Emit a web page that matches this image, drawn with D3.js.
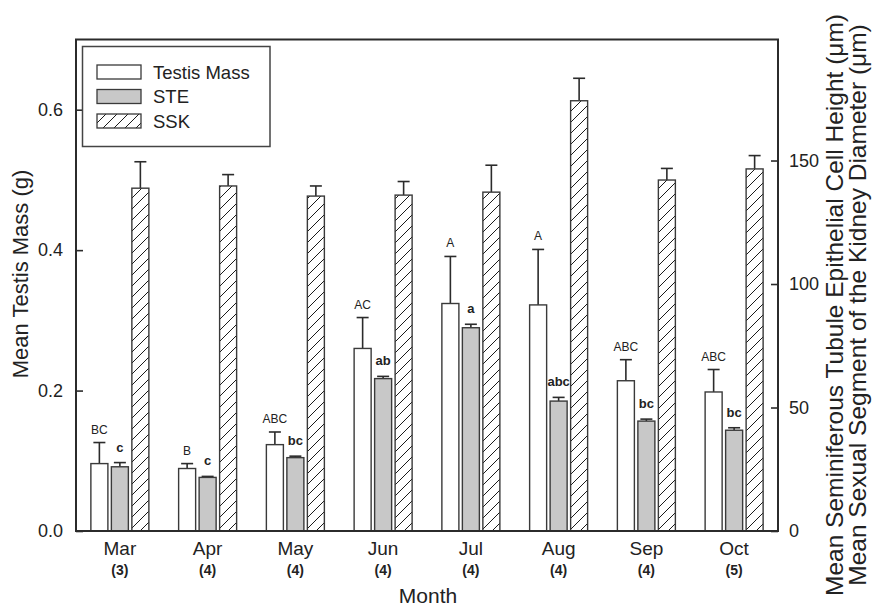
<!DOCTYPE html>
<html>
<head>
<meta charset="utf-8">
<script src="https://cdn.jsdelivr.net/npm/d3@7/dist/d3.min.js"></script>
<style>
  html, body { margin: 0; padding: 0; background: #fff; }
  svg { display: block; font-family: "Liberation Sans", Arial, sans-serif; }
</style>
</head>
<body>
<svg id="chart" width="878" height="610"></svg>
<script>
// ---- data ----
const months = ["Mar", "Apr", "May", "Jun", "Jul", "Aug", "Sep", "Oct"];
const sampleSizes = ["(3)", "(4)", "(4)", "(4)", "(4)", "(4)", "(4)", "(5)"];
const seriesNames = ["Testis Mass", "STE", "SSK"];
const testisMass = [0.096, 0.089, 0.123, 0.260, 0.324, 0.322, 0.214, 0.198];
const testisErr  = [0.030, 0.007, 0.018, 0.044, 0.067, 0.079, 0.030, 0.032];
const steValues  = [26.0, 21.7, 29.7, 61.7, 82.3, 52.6, 44.5, 40.8];
const steErr     = [1.7, 0.4, 0.6, 0.9, 1.4, 1.5, 0.8, 1.0];
const sskValues  = [138.8, 139.7, 135.6, 136.0, 137.2, 174.2, 142.1, 146.6];
const sskErr     = [10.7, 4.6, 4.1, 5.5, 10.9, 9.1, 4.7, 5.4];
const testisLetters = ["BC", "B", "ABC", "AC", "A", "A", "ABC", "ABC"];
const steLetters    = ["c", "c", "bc", "ab", "a", "abc", "bc", "bc"];
const leftTicks  = [0.0, 0.2, 0.4, 0.6];
const rightTicks = [0, 50, 100, 150];
const leftDomain = [0, 0.7];
const rightDomain = [0, 199];

// ---- layout ----
const svg = d3.select("#chart");
const L = 76, R = 778, T = 39.5, B = 531;
const axisColor = "#2b2b2b";

const x0 = d3.scaleBand().domain(months).range([L, R]).padding(0);
const x1 = d3.scaleBand().domain(seriesNames).range([-29, 29]).paddingInner(0.17);
const yL = d3.scaleLinear().domain(leftDomain).range([B, T]);
const yR = d3.scaleLinear().domain(rightDomain).range([B, T]);

// hatch pattern
const defs = svg.append("defs");
const pat = defs.append("pattern")
  .attr("id", "hatch").attr("patternUnits", "userSpaceOnUse")
  .attr("width", 11).attr("height", 11);
pat.append("rect").attr("width", 11).attr("height", 11).attr("fill", "#fff");
pat.append("path")
  .attr("d", "M0,11 L11,0 M-2,2 L2,-2 M9,13 L13,9")
  .attr("stroke", "#1a1a1a").attr("stroke-width", 1);

const series = [
  { name: "Testis Mass", vals: testisMass, errs: testisErr, y: yL, fill: "#ffffff", letters: testisLetters, bold: false, off: 9 },
  { name: "STE", vals: steValues, errs: steErr, y: yR, fill: "#c8c8c8", letters: steLetters, bold: true, off: 11 },
  { name: "SSK", vals: sskValues, errs: sskErr, y: yR, fill: "url(#hatch)", letters: null }
];

const plot = svg.append("g");

series.forEach(s => {
  const g = plot.append("g");
  const bx = (i) => x0(months[i]) + x0.bandwidth() / 2 + x1(s.name);
  const bw = x1.bandwidth();
  months.forEach((m, i) => {
    const cx = bx(i) + bw / 2;
    // error bar
    g.append("line")
      .attr("x1", cx).attr("x2", cx)
      .attr("y1", s.y(s.vals[i])).attr("y2", s.y(s.vals[i] + s.errs[i]))
      .attr("stroke", axisColor).attr("stroke-width", 1.6);
    g.append("line")
      .attr("x1", cx - 6).attr("x2", cx + 6)
      .attr("y1", s.y(s.vals[i] + s.errs[i])).attr("y2", s.y(s.vals[i] + s.errs[i]))
      .attr("stroke", axisColor).attr("stroke-width", 1.6);
    // bar
    g.append("rect")
      .attr("x", bx(i)).attr("width", bw)
      .attr("y", s.y(s.vals[i])).attr("height", B - s.y(s.vals[i]))
      .attr("fill", s.fill).attr("stroke", "#3a3a3a").attr("stroke-width", 1.4);
    if (s.letters) {
      g.append("text")
        .attr("x", cx).attr("y", s.y(s.vals[i] + s.errs[i]) - s.off)
        .attr("text-anchor", "middle")
        .attr("font-size", s.bold ? 13 : 12)
        .attr("font-weight", s.bold ? "bold" : "normal")
        .attr("fill", "#222")
        .text(s.letters[i]);
    }
  });
});

// axes
const leftAxis = d3.axisLeft(yL).tickValues(leftTicks).tickFormat(d3.format(".1f")).tickSizeInner(-7).tickSizeOuter(0).tickPadding(13);
const rightAxis = d3.axisRight(yR).tickValues(rightTicks).tickFormat(d3.format("d")).tickSizeInner(-7).tickSizeOuter(0).tickPadding(11);
const gl = svg.append("g").attr("transform", `translate(${L},0)`).call(leftAxis);
const gr = svg.append("g").attr("transform", `translate(${R},0)`).call(rightAxis);
[gl, gr].forEach(g => {
  g.select(".domain").remove();
  g.selectAll(".tick line").attr("stroke", axisColor).attr("stroke-width", 1.6);
  g.selectAll(".tick text").attr("font-size", 18).attr("fill", "#222")
    .attr("font-family", "'Liberation Sans', Arial, sans-serif");
});

// frame
svg.append("rect").attr("x", L).attr("y", T).attr("width", R - L).attr("height", B - T)
  .attr("fill", "none").attr("stroke", axisColor).attr("stroke-width", 2);

// month labels
const bottom = svg.append("g");
months.forEach((m, i) => {
  const cx = x0(m) + x0.bandwidth() / 2;
  bottom.append("text").attr("x", cx).attr("y", 555).attr("text-anchor", "middle")
    .attr("font-size", 19).attr("fill", "#222").text(m);
  bottom.append("text").attr("x", cx).attr("y", 575).attr("text-anchor", "middle")
    .attr("font-size", 14).attr("font-weight", "bold").attr("fill", "#222").text(sampleSizes[i]);
});

// axis titles
svg.append("text").attr("x", (L + R) / 2 + 1).attr("y", 603).attr("text-anchor", "middle")
  .attr("font-size", 21).attr("fill", "#222").text("Month");
svg.append("text").attr("transform", "translate(28,274) rotate(-90)").attr("text-anchor", "middle")
  .attr("font-size", 22).attr("fill", "#222").text("Mean Testis Mass (g)");
svg.append("text").attr("transform", "translate(843,305) rotate(-90)").attr("text-anchor", "middle")
  .attr("font-size", 24.5).attr("fill", "#222").text("Mean Seminiferous Tubule Epithelial Cell Height (\u03bcm)");
svg.append("text").attr("transform", "translate(866,305) rotate(-90)").attr("text-anchor", "middle")
  .attr("font-size", 24.5).attr("fill", "#222").text("Mean Sexual Segment of the Kidney Diameter (\u03bcm)");

// legend
const lg = svg.append("g");
lg.append("rect").attr("x", 82.5).attr("y", 46.5).attr("width", 187.5).attr("height", 100)
  .attr("fill", "#fff").attr("stroke", "#444").attr("stroke-width", 1.5);
const legendFills = ["#ffffff", "#c8c8c8", "url(#hatch)"];
seriesNames.forEach((n, i) => {
  const y = 65 + i * 24.5;
  lg.append("rect").attr("x", 97).attr("y", y).attr("width", 44).attr("height", 14)
    .attr("fill", legendFills[i]).attr("stroke", "#3a3a3a").attr("stroke-width", 1.3);
  lg.append("text").attr("x", 153).attr("y", y + 13.5).attr("font-size", 18.5).attr("fill", "#222").text(n);
});
</script>
</body>
</html>
